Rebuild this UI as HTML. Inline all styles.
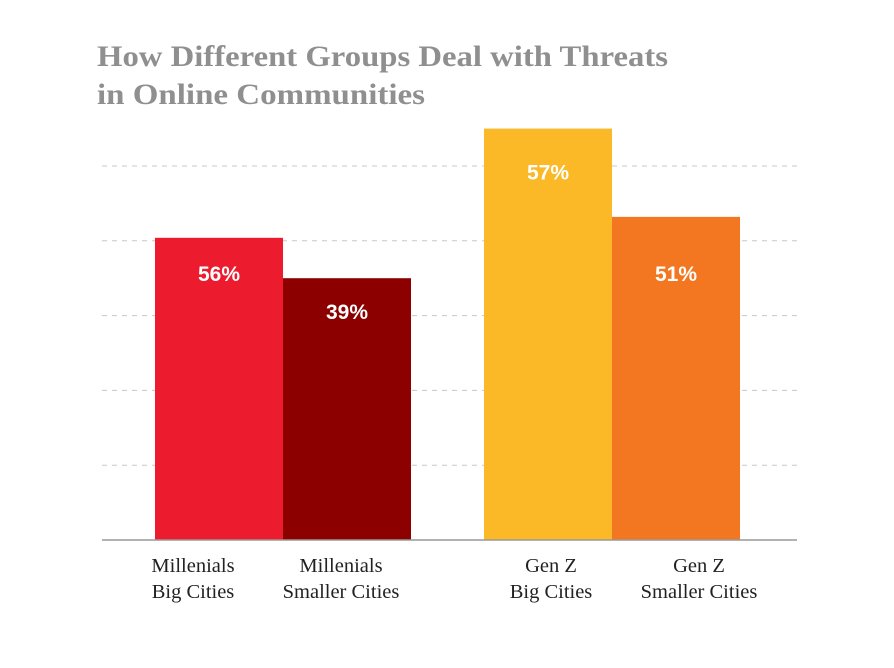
<!DOCTYPE html>
<html><head><meta charset="utf-8"><style>
body{margin:0;background:#fff;}
svg{display:block;}
</style></head><body>
<svg id="chart" width="894" height="668">
<text x="97" y="66" textLength="571" lengthAdjust="spacingAndGlyphs" font-family="'Liberation Serif',serif" font-weight="bold" font-size="30" fill="#8f8f8f">How Different Groups Deal with Threats</text>
<text x="97" y="104" textLength="328" lengthAdjust="spacingAndGlyphs" font-family="'Liberation Serif',serif" font-weight="bold" font-size="30" fill="#8f8f8f">in Online Communities</text>
</svg>
<script>
const categories = [["Millenials","Big Cities"],["Millenials","Smaller Cities"],["Gen Z","Big Cities"],["Gen Z","Smaller Cities"]];
const barValues = [4.04, 3.5, 5.5, 4.32];
const valueLabels = ["56%","39%","57%","51%"];
const gridTicks = [1,2,3,4,5];
const colors = ["#ec1c2e","#8c0000","#fbb827","#f37721"];
const NS="http://www.w3.org/2000/svg";
const svg=document.getElementById('chart');
const base=540, unit=74.8;
const y=v=>base-v*unit;
const barX=[155,283,484,612], bw=128;
const labelCx=[193,341,551,699];
const labelOff=[43,41,51,64];
function mk(t,a){const e=document.createElementNS(NS,t);for(const k in a)e.setAttribute(k,a[k]);svg.appendChild(e);return e;}
gridTicks.forEach(t=>{
 const l=mk('line',{x1:102,x2:797,y1:y(t),y2:y(t),stroke:'#c8c8c8','stroke-dasharray':'5,5','stroke-width':1});
 
 
});
barValues.forEach((v,i)=>{
 const r=mk('rect',{x:barX[i],y:y(v),width:bw,height:base-y(v),fill:colors[i]});
 
 
 const t=mk('text',{x:barX[i]+bw/2,y:y(v)+labelOff[i],'text-anchor':'middle','font-family':'Liberation Sans,sans-serif','font-weight':'bold','font-size':21,fill:'#fff'});
 t.textContent=valueLabels[i];
 
 
 categories[i].forEach((s,j)=>{
  const c=mk('text',{x:labelCx[i],y:572+j*26,'text-anchor':'middle','font-family':'Liberation Serif,serif','font-size':20.5,fill:'#222'});
  c.textContent=s;
  
  
 });
});
const ax=mk('line',{x1:102,x2:797,y1:base,y2:base,stroke:'#999','stroke-width':1.5});


</script>
</body></html>
